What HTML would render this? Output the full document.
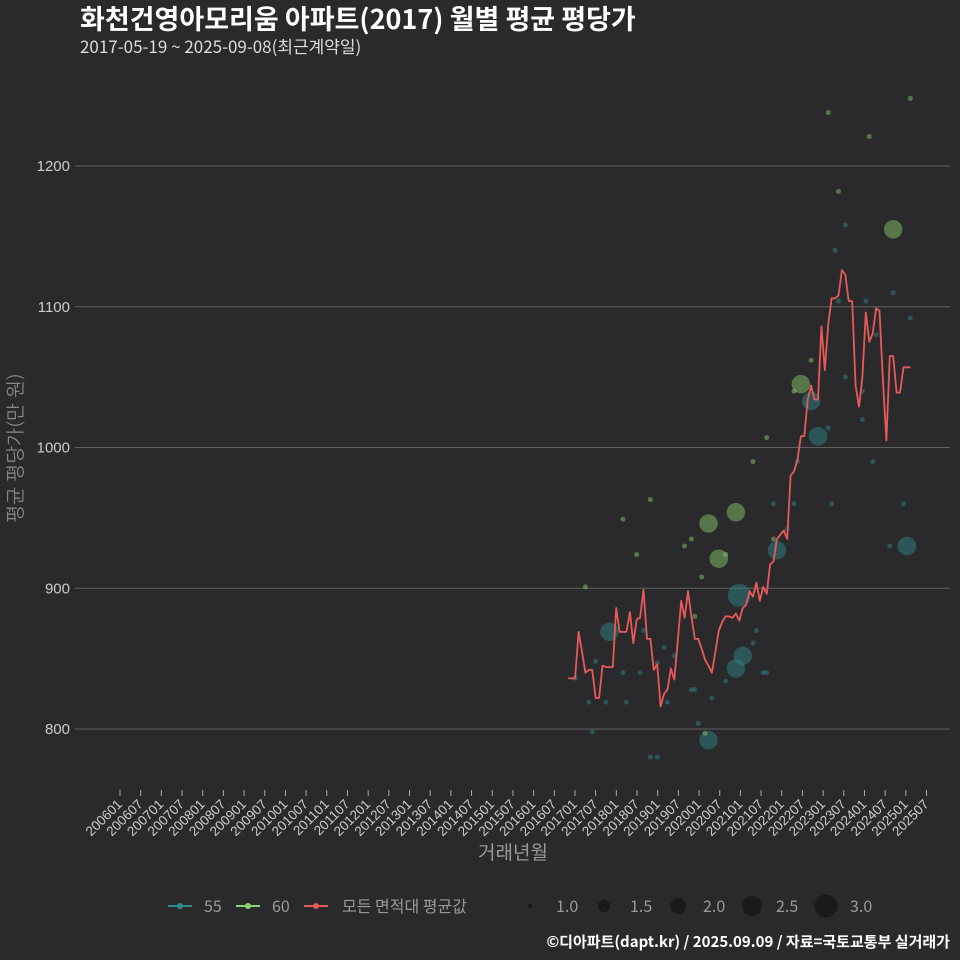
<!DOCTYPE html>
<html><head><meta charset="utf-8"><style>
body{margin:0;background:#2a2a2c;}
svg{display:block;font-family:"Liberation Sans","Noto Sans CJK KR",sans-serif;}
.k{font-family:"Noto Sans CJK KR","Liberation Sans",sans-serif;}
</style></head><body>
<svg id="c" width="960" height="960" xmlns="http://www.w3.org/2000/svg">
<rect width="960" height="960" fill="#2a2a2c"/>
<text class="k" x="80" y="29" font-size="27" font-weight="bold" fill="#ffffff">화천건영아모리움 아파트(2017) 월별 평균 평당가</text>
<text class="k" x="80" y="53" font-size="17" fill="#dddddd">2017-05-19 ~ 2025-09-08(최근계약일)</text>
<text transform="translate(22,448) rotate(-90)" text-anchor="middle" font-size="19" fill="#8a8a8a" style="font-family:'NanumGothic','Noto Sans CJK KR',sans-serif">평균 평당가(만 원)</text>
<text class="k" x="513" y="859" text-anchor="middle" font-size="19" fill="#999999">거래년월</text>
<g id="grid"></g>
<g id="xt"></g>
<g id="pts"></g>
<g id="ln"></g>
<g class="k">
<g><line x1="168" y1="906" x2="192" y2="906" stroke="#2e8b8b" stroke-width="2"/><circle cx="180" cy="906" r="3" fill="#2e8b8b"/><text x="204" y="912" font-size="16" fill="#9a9a9a">55</text></g>
<g><line x1="236" y1="906" x2="260" y2="906" stroke="#8fd46f" stroke-width="2"/><circle cx="248" cy="906" r="3" fill="#8fd46f"/><text x="272" y="912" font-size="16" fill="#9a9a9a">60</text></g>
<g><line x1="304" y1="906" x2="328" y2="906" stroke="#e05a5a" stroke-width="2"/><circle cx="316" cy="906" r="3" fill="#e05a5a"/><text x="342" y="912" font-size="16" fill="#9a9a9a">모든 면적대 평균값</text></g>
<g>
<circle cx="530" cy="906" r="2" fill="#1a1a1a"/><text x="556" y="912" font-size="16" fill="#9a9a9a">1.0</text>
<circle cx="604" cy="906" r="6" fill="#1a1a1a"/><text x="630" y="912" font-size="16" fill="#9a9a9a">1.5</text>
<circle cx="678" cy="906" r="8" fill="#1a1a1a"/><text x="703" y="912" font-size="16" fill="#9a9a9a">2.0</text>
<circle cx="752" cy="906" r="10" fill="#1a1a1a"/><text x="776" y="912" font-size="16" fill="#9a9a9a">2.5</text>
<circle cx="826" cy="906" r="11.5" fill="#1a1a1a"/><text x="850" y="912" font-size="16" fill="#9a9a9a">3.0</text>
</g></g>
<text class="k" x="950" y="947" text-anchor="end" font-size="15" font-weight="bold" fill="#ffffff">©디아파트(dapt.kr) / 2025.09.09 / 자료=국토교통부 실거래가</text>
</svg>
<script>
const yTicks=[800,900,1000,1100,1200];
const xTickLabels=["200601","200607","200701","200707","200801","200807","200901","200907","201001","201007","201101","201107","201201","201207","201301","201307","201401","201407","201501","201507","201601","201607","201701","201707","201801","201807","201901","201907","202001","202007","202101","202107","202201","202207","202301","202307","202401","202407","202501","202507"];
const avgValues=[836,836,836,869,855,840,842,842,822,822,845,844,844,844,886,869,869,869,883,861,878,879,899,864,864,842,846,816,825,828,843,835,862,891,879,898,880,864,864,857,849,845,840,855,870,876,880,880,879,882,877,886,888,898,894,904,891,901,896,917,919,935,938,941,935,980,983,991,1008,1008,1034,1044,1034,1034,1086,1055,1087,1106,1106,1108,1126,1123,1104,1104,1044,1029,1050,1096,1075,1081,1099,1097,1048,1005,1065,1065,1039,1039,1057,1057,1057];
const g60Month=[5,16,20,24,34,36,39,37,41,49,44,46,54,60,40,100,76,88,79,95,68,66,58,71];
const g60Value=[901,949,924,963,930,935,908,880,946,954,921,924,990,935,797,1248,1238,1221,1182,1155,1045,1040,1007,1062];
const g60Size=[1,1,1,1,1,1,1,1,2.5,2.5,2.5,1,1,1,1,1,1,1,1,2.5,2.5,1,1,1];
const g55Month=[2,8,6,7,11,12,16,17,21,22,24,26,26,28,29,31,36,37,38,41,42,46,49,51,50,55,54,57,58,60,61,64,66,67,77,89,94,98,99,81,78,79,87,95,100,90,81,86,86,76,73,71];
const g55Value=[836,848,819,798,819,869,840,819,840,870,780,780,847,858,819,852,828,828,804,792,822,834,843,852,895,870,861,840,840,960,927,942,960,990,960,990,930,960,930,1158,1140,1104,1104,1110,1092,1080,1050,1040,1020,1014,1008,1033];
const g55Size=[1,1,1,1,1,2.5,1,1,1,1,1,1,1,1,1,1,1,1,1,2.5,1,1,2.5,2.5,3,1,1,1,1,1,2.5,1,1,1,1,1,1,1,2.5,1,1,1,1,1,1,1,1,1,1,1,2.5,2.5];
const NS="http://www.w3.org/2000/svg";
function yScale(v){return 729-(v-800)*1.4075;}
function xScale(m){return 568.3+m*3.42;}
function tickX(i){return 120+i*20.68;}
function rScale(s){return 2.5+(s-1)*4.5;}
function mk(t,a,p){const e=document.createElementNS(NS,t);for(const k in a)e.setAttribute(k,a[k]);p.appendChild(e);return e;}
const grid=document.getElementById('grid');
yTicks.forEach(v=>{
  const l=mk('line',{x1:75,x2:950,y1:yScale(v),y2:yScale(v),stroke:'#606060','stroke-width':1},grid);
  
  
  const t=mk('text',{x:70,y:yScale(v)+5,'text-anchor':'end','font-size':15,fill:'#cccccc'},grid);
  t.textContent=v;
  
  
});
const xt=document.getElementById('xt');
xTickLabels.forEach((s,i)=>{
  const x=tickX(i);
  const l=mk('line',{x1:x,x2:x,y1:790,y2:796,stroke:'#aaaaaa','stroke-width':1},xt);
  
  
  const t=mk('text',{transform:`translate(${x+3},${805}) rotate(-45)`,'text-anchor':'end','font-size':13.5,fill:'#cccccc'},xt);
  t.textContent=s;
  
  
});
const pts=document.getElementById('pts');
g55Month.forEach((m,i)=>{
  const c=mk('circle',{cx:xScale(m),cy:yScale(g55Value[i]),r:rScale(g55Size[i]),fill:'#2e8b8b','fill-opacity':0.45},pts);
  
  
});
g60Month.forEach((m,i)=>{
  const c=mk('circle',{cx:xScale(m),cy:yScale(g60Value[i]),r:rScale(g60Size[i]),fill:'#8fd46f','fill-opacity':0.45},pts);
  
  
});
const ln=document.getElementById('ln');
const d=avgValues.map((v,i)=>(i?'L':'M')+xScale(i).toFixed(1)+','+yScale(v).toFixed(1)).join('');
const p=mk('path',{d:d,fill:'none',stroke:'#e85a5a','stroke-width':1.8,'stroke-linejoin':'round'},ln);


</script>
</body></html>
